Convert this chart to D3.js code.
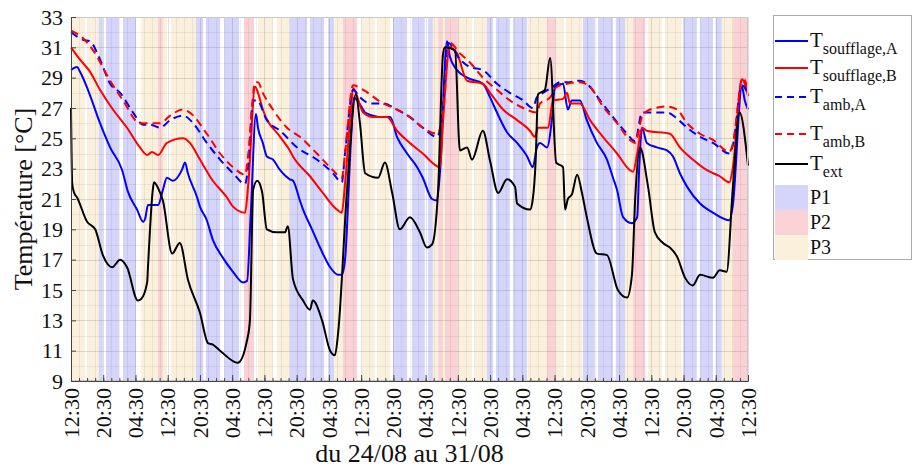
<!DOCTYPE html>
<html><head><meta charset="utf-8">
<script src="https://cdn.jsdelivr.net/npm/d3@7"></script>
<style>body{margin:0;background:#fff}svg{display:block;font-family:"Liberation Serif","Times New Roman",serif}</style>
</head><body><svg id="c" width="916" height="473"></svg>
<script>
// ---- data (hours since 24/08 12:30, temperature °C) ----
const xTickHours = [0,8,16,24,32,40,48,56,64,72,80,88,96,104,112,120,128,136,144,152,160,168];
const xTickLabels = ["12:30","20:30","04:30","12:30","20:30","04:30","12:30","20:30","04:30","12:30","20:30","04:30","12:30","20:30","04:30","12:30","20:30","04:30","12:30","20:30","04:30","12:30"];
const yTicks = [9,11,13,15,17,19,21,23,25,27,29,31,33];

// period bands: [start h, end h, period]
const bands = [[0,3.5,3],[4.2,6.9,3],[6.9,7.9,1],[8.7,11.9,1],[12.9,16.1,1],[17.4,21.6,3],[21.6,22.8,2],[22.8,23.8,3],
[24.8,31.0,3],[31.0,32.8,1],[33.5,37.0,1],[38.0,41.7,1],[42.9,45.4,2],[46.4,50.1,3],[51.1,54.3,3],[54.3,58.6,1],
[59.3,62.8,1],[63.8,65.3,1],[65.3,67.5,3],[67.5,71.0,2],[72.2,75.4,3],[76.2,79.2,3],[79.9,83.4,1],[84.6,87.8,1],
[88.6,89.8,1],[89.8,91.1,3],[91.1,92.1,2],[92.1,92.8,3],[92.8,96.0,2],[96.0,99.5,3],[100.2,103.2,3],[103.2,104.7,1],
[105.5,108.9,1],[109.7,113.2,1],[113.4,118.1,3],[118.1,120.1,2],[120.1,122.1,3],[122.8,126.8,3],[127.0,130.0,1],
[130.8,134.5,1],[135.2,137.5,1],[137.5,139.5,3],[139.5,142.5,2],[143.2,146.6,3],[147.4,151.6,3],[151.9,155.3,1],
[156.1,159.3,1],[160.0,161.5,1],[161.5,164.3,3],[164.3,168,2]];

const tSoufflageA = [[0,29.5],[1.5,29.7],[2.2,29.4],[4.2,28.2],[7.2,26.0],[9.7,24.4],[12.7,22.9],[14.1,21.5],[16.4,20.3],[17.9,19.5],[18.4,19.7],[19.1,20.6],[21.6,20.6],[22.8,21.6],[23.8,22.4],[25.3,22.2],[27.5,22.9],[28.3,23.4],[29.0,22.7],[31.3,21.1],[32.0,20.5],[33.7,19.6],[35.2,18.3],[37.5,17.2],[40.2,16.2],[42.7,15.5],[43.7,15.6],[44.6,20.0],[45.9,26.6],[46.4,25.7],[47.6,24.7],[48.6,23.8],[50.1,23.6],[51.9,22.9],[54.3,22.3],[55.1,22.2],[56.8,20.9],[57.6,20.3],[59.8,19.0],[61.8,17.8],[64.3,16.5],[66.3,16.0],[67.2,16.0],[68.0,17.0],[69.5,25.0],[70.2,27.7],[71.0,27.5],[72.5,26.9],[73.0,26.7],[77.4,26.4],[79.2,26.4],[80.9,25.1],[83.4,24.0],[85.9,23.1],[87.3,22.4],[89.6,21.0],[90.8,20.9],[91.6,22.9],[93.3,31.4],[94.0,30.4],[95.8,29.5],[98.3,29.0],[102.2,28.6],[104.0,27.7],[105.7,26.7],[108.2,25.4],[110.7,24.7],[113.2,23.8],[114.6,23.1],[115.6,24.4],[116.4,24.7],[118.1,24.4],[119.4,26.4],[120.1,28.4],[122.1,28.6],[123.3,26.9],[124.3,27.5],[126.3,27.5],[128.0,26.2],[130.5,24.7],[133.0,23.6],[134.5,22.4],[135.5,21.6],[137.0,19.8],[139.2,19.4],[140.5,19.8],[141.0,23.0],[141.7,25.7],[142.9,24.7],[145.4,24.4],[147.9,24.2],[149.4,23.8],[151.1,22.7],[152.9,21.8],[156.1,20.7],[159.3,20.1],[163.4,19.6],[164.2,20.5],[166.5,28.4],[167.2,27.5],[168.0,26.9]];

const tSoufflageB = [[0,31.0],[2.2,30.2],[4.7,29.4],[7.2,28.2],[10.4,26.9],[13.9,25.7],[17.1,24.4],[18.9,23.9],[20.1,24.1],[21.6,23.9],[23.8,24.7],[27.8,25.0],[29.5,24.7],[32.0,23.6],[35.2,22.2],[38.7,21.1],[40.2,20.5],[43.2,20.1],[44.0,22.0],[45.7,28.4],[46.4,28.0],[47.6,26.9],[51.9,25.1],[54.3,24.2],[55.1,23.8],[59.3,22.5],[62.5,21.4],[66.0,20.3],[67.2,20.1],[68.0,22.0],[69.5,27.0],[70.0,28.3],[72.5,26.7],[74.9,26.4],[78.4,26.4],[80.9,25.5],[84.1,24.7],[87.3,24.0],[91.6,23.1],[92.3,26.0],[94.0,31.0],[95.8,30.6],[98.3,28.8],[102.2,28.6],[104.0,28.0],[107.2,26.9],[110.7,26.2],[113.9,25.5],[115.1,25.1],[115.9,25.7],[118.4,25.7],[119.6,27.5],[122.1,27.6],[123.1,28.0],[123.8,27.3],[126.3,27.3],[128.8,26.2],[132.0,25.1],[135.5,24.0],[138.7,22.9],[139.5,22.8],[140.5,24.0],[141.7,25.7],[142.9,25.5],[148.6,25.3],[151.1,24.4],[154.3,23.6],[157.8,22.9],[161.0,22.5],[163.4,22.1],[164.2,23.0],[166.5,28.9],[168.0,27.8]];

const tAmbA = [[0,32.0],[3.0,31.5],[4.7,31.4],[7.2,30.2],[9.7,28.6],[12.2,28.0],[15.4,26.7],[17.9,25.9],[19.6,25.9],[22.1,25.7],[24.6,26.2],[27.8,26.5],[30.3,26.0],[33.7,24.7],[37.0,23.6],[40.2,22.7],[43.2,22.0],[43.9,23.0],[45.2,27.5],[46.2,27.5],[48.6,26.2],[51.9,25.5],[56.1,24.4],[61.0,23.6],[65.0,22.7],[67.2,22.1],[68.0,24.0],[70.0,28.2],[71.7,27.7],[74.2,27.3],[77.4,27.3],[80.9,26.9],[84.1,26.4],[87.3,25.7],[90.8,25.1],[92.1,26.5],[93.5,31.3],[96.5,30.2],[99.0,29.7],[102.2,29.5],[105.7,28.6],[108.9,28.0],[112.2,27.5],[114.6,27.0],[115.6,27.7],[117.1,28.0],[119.6,28.4],[121.3,28.7],[123.1,28.7],[126.3,28.8],[128.0,28.6],[131.3,27.5],[134.5,26.4],[138.0,25.3],[140.0,24.8],[141.7,26.7],[147.9,26.7],[150.4,26.3],[152.9,25.7],[156.1,25.1],[159.3,24.7],[163.4,24.0],[164.2,24.5],[166.5,28.5],[168.0,27.9]];

const tAmbB = [[0,32.1],[3.0,31.6],[5.5,30.8],[9.7,28.8],[12.9,27.5],[17.1,26.0],[19.6,26.0],[22.1,26.0],[24.6,26.5],[27.8,26.9],[29.5,26.7],[33.7,25.3],[37.0,24.0],[40.2,23.1],[43.2,22.6],[44.0,24.0],[45.7,28.7],[46.4,28.7],[47.6,28.0],[50.1,26.9],[53.6,25.7],[56.8,25.1],[61.0,24.0],[65.0,22.9],[67.2,22.4],[68.0,24.0],[70.0,28.5],[72.5,28.2],[77.4,27.3],[80.9,26.9],[84.1,26.4],[87.3,25.7],[90.8,25.3],[92.1,26.2],[94.0,31.3],[96.5,30.6],[99.0,30.0],[102.2,29.0],[105.7,28.2],[108.9,27.5],[112.2,27.0],[115.6,26.7],[116.4,27.3],[118.9,27.7],[120.6,28.4],[123.1,28.6],[126.3,28.7],[128.8,28.4],[132.0,27.1],[135.5,26.0],[138.7,24.9],[140.0,24.7],[141.7,26.4],[143.7,26.9],[147.9,27.1],[150.4,26.9],[152.9,26.0],[156.1,25.3],[159.3,24.9],[163.4,24.1],[164.2,24.6],[166.7,29.0],[168.0,28.2]];

const tExt = [[0,27.0],[0.3,22.0],[0.8,21.4],[1.5,21.1],[4.0,19.5],[6.0,19.0],[7.9,17.3],[10.2,16.5],[12.2,17.0],[13.9,16.5],[16.6,14.3],[17.4,14.4],[18.9,15.5],[19.1,16.5],[20.3,21.6],[20.6,22.1],[21.8,21.6],[22.8,20.9],[25.1,17.4],[27.0,18.1],[29.0,15.7],[32.0,13.5],[34.0,11.5],[35.2,11.4],[37.0,11.0],[41.4,10.2],[43.7,11.7],[44.4,13.0],[45.2,21.6],[46.2,22.2],[47.4,21.5],[48.6,19.0],[51.1,18.8],[53.1,18.8],[53.8,19.2],[55.1,15.7],[57.6,14.3],[59.3,13.7],[60.0,14.3],[62.3,13.0],[64.3,11.0],[65.5,10.7],[66.3,12.2],[68.5,21.6],[70.7,27.9],[71.7,26.0],[73.0,22.7],[76.2,22.4],[77.9,23.4],[79.7,21.4],[81.6,19.0],[84.1,19.8],[86.6,18.8],[88.3,17.8],[89.6,18.0],[91.1,21.6],[92.3,30.5],[92.8,31.0],[95.3,30.8],[96.5,24.2],[98.3,24.4],[99.5,23.6],[102.2,25.5],[104.0,23.5],[106.0,21.4],[108.2,22.3],[110.2,21.8],[110.7,20.7],[113.9,20.3],[114.6,21.0],[115.3,23.5],[115.9,27.9],[117.6,28.2],[118.9,30.3],[120.4,23.4],[122.1,23.1],[122.6,20.3],[123.3,21.0],[124.3,21.3],[125.6,22.6],[126.8,21.4],[128.0,19.8],[130.5,17.4],[133.0,17.3],[135.7,15.0],[138.0,14.5],[139.2,16.0],[140.0,21.0],[141.2,24.4],[143.2,21.8],[144.9,18.8],[146.9,18.1],[148.6,17.8],[150.4,17.2],[152.4,15.8],[154.3,15.3],[156.1,16.0],[159.3,15.8],[161.0,16.3],[162.7,16.2],[164.2,21.6],[165.9,26.7],[168.0,23.2]];

const seriesNames = ["soufflage,A","soufflage,B","amb,A","amb,B","ext"];
const periodNames = ["P1","P2","P3"];

// ---- drawing ----
const svg = d3.select("#c");
const L=71, R=748, T=17, B=381;
const x = d3.scaleLinear().domain([0,168]).range([L,R]);
const y = d3.scaleLinear().domain([9,33]).range([B,T]);
const bandColor = {1:"#d5d5fb",2:"#fad2d6",3:"#faf0dc"};

svg.append("rect").attr("x",L).attr("y",T).attr("width",R-L).attr("height",B-T).attr("fill","#fff");
svg.append("g").selectAll("rect").data(bands).join("rect")
  .attr("x",d=>x(d[0])).attr("width",d=>x(d[1])-x(d[0]))
  .attr("y",T).attr("height",B-T).attr("fill",d=>bandColor[d[2]]);

// grid
const g = svg.append("g").attr("stroke","#000").attr("stroke-width",1);
d3.range(9,33.01,1).forEach(v=>g.append("line").attr("x1",L).attr("x2",R).attr("y1",Math.round(y(v))+0.5).attr("y2",Math.round(y(v))+0.5).attr("stroke-opacity", v%2===1?0.12:0.06));
d3.range(0,168.01,2).forEach(h=>g.append("line").attr("y1",T).attr("y2",B).attr("x1",Math.round(x(h))+0.5).attr("x2",Math.round(x(h))+0.5).attr("stroke-opacity", h%8===0?0.12:0.06));

// series
const line = d3.line().x(d=>x(d[0])).y(d=>y(d[1])).curve(d3.curveMonotoneX);
const specs = [
  {data:tSoufflageA,color:"#0000ff",dash:null},
  {data:tSoufflageB,color:"#ff0000",dash:null},
  {data:tAmbA,color:"#0000ff",dash:"8,5"},
  {data:tAmbB,color:"#ff0000",dash:"8,5"},
  {data:tExt,color:"#000000",dash:null}
];
specs.forEach(s=>{
  svg.append("path").datum(s.data).attr("d",line).attr("fill","none")
    .attr("stroke",s.color).attr("stroke-width",2).attr("stroke-linejoin","round")
    .attr("stroke-dasharray",s.dash);
});

// box
svg.append("rect").attr("x",L+0.5).attr("y",T+0.5).attr("width",R-L-1).attr("height",B-T-1)
  .attr("fill","none").attr("stroke","#c8c8c8");

// axes
const yAxis = d3.axisLeft(y).tickValues(yTicks).tickSize(-5).tickPadding(8).tickFormat(d3.format("d"));
const ga = svg.append("g").attr("transform",`translate(${L},0)`).call(yAxis);
ga.select(".domain").attr("stroke","#444");
ga.selectAll(".tick line").attr("stroke","#444");
ga.selectAll("text").attr("font-size",22).attr("fill","#111").attr("font-family","Liberation Serif");

const xMinor = d3.axisBottom(x).tickValues(d3.range(0,168.01,2)).tickSize(-3).tickFormat("");
const gm = svg.append("g").attr("transform",`translate(0,${B})`).call(xMinor);
gm.select(".domain").remove();
gm.selectAll(".tick line").attr("stroke","#444");

const xAxis = d3.axisBottom(x).tickValues(xTickHours).tickSize(-6).tickFormat((d,i)=>xTickLabels[i]);
const gx = svg.append("g").attr("transform",`translate(0,${B})`).call(xAxis);
gx.select(".domain").attr("stroke","#444");
gx.selectAll(".tick line").attr("stroke","#444");
gx.selectAll("text").attr("font-size",22).attr("fill","#111").attr("font-family","Liberation Serif")
  .attr("transform","rotate(-90)").attr("text-anchor","end").attr("x",-7).attr("y",0).attr("dy","0.33em");

// axis labels
svg.append("text").attr("transform",`translate(32,${(T+B)/2}) rotate(-90)`).attr("text-anchor","middle")
  .attr("font-size",26).attr("fill","#111").text("Température [°C]");
svg.append("text").attr("x",(L+R)/2).attr("y",462).attr("text-anchor","middle")
  .attr("font-size",26).attr("fill","#111").text("du 24/08 au 31/08");

// legend
const lg = svg.append("g");
lg.append("rect").attr("x",773.5).attr("y",15.5).attr("width",138).attr("height",244).attr("fill","#fff").attr("stroke","#aaa");
const legY = [41,68,97,134,164];
specs.forEach((s,i)=>{
  lg.append("line").attr("x1",775).attr("x2",808).attr("y1",legY[i]).attr("y2",legY[i])
    .attr("stroke",s.color).attr("stroke-width",2).attr("stroke-dasharray",s.dash?"7,5":null);
  const t = lg.append("text").attr("x",810).attr("y",legY[i]+6).attr("font-size",21).attr("fill","#111");
  t.append("tspan").text("T");
  t.append("tspan").attr("dy",7).attr("font-size",16).text(seriesNames[i]);
});
const patchY = [185,210,235];
periodNames.forEach((p,i)=>{
  lg.append("rect").attr("x",775).attr("y",patchY[i]).attr("width",33).attr("height",25).attr("fill",bandColor[i+1]);
  lg.append("text").attr("x",810).attr("y",patchY[i]+19).attr("font-size",20).attr("fill","#111").text(p);
});
</script></body></html>
